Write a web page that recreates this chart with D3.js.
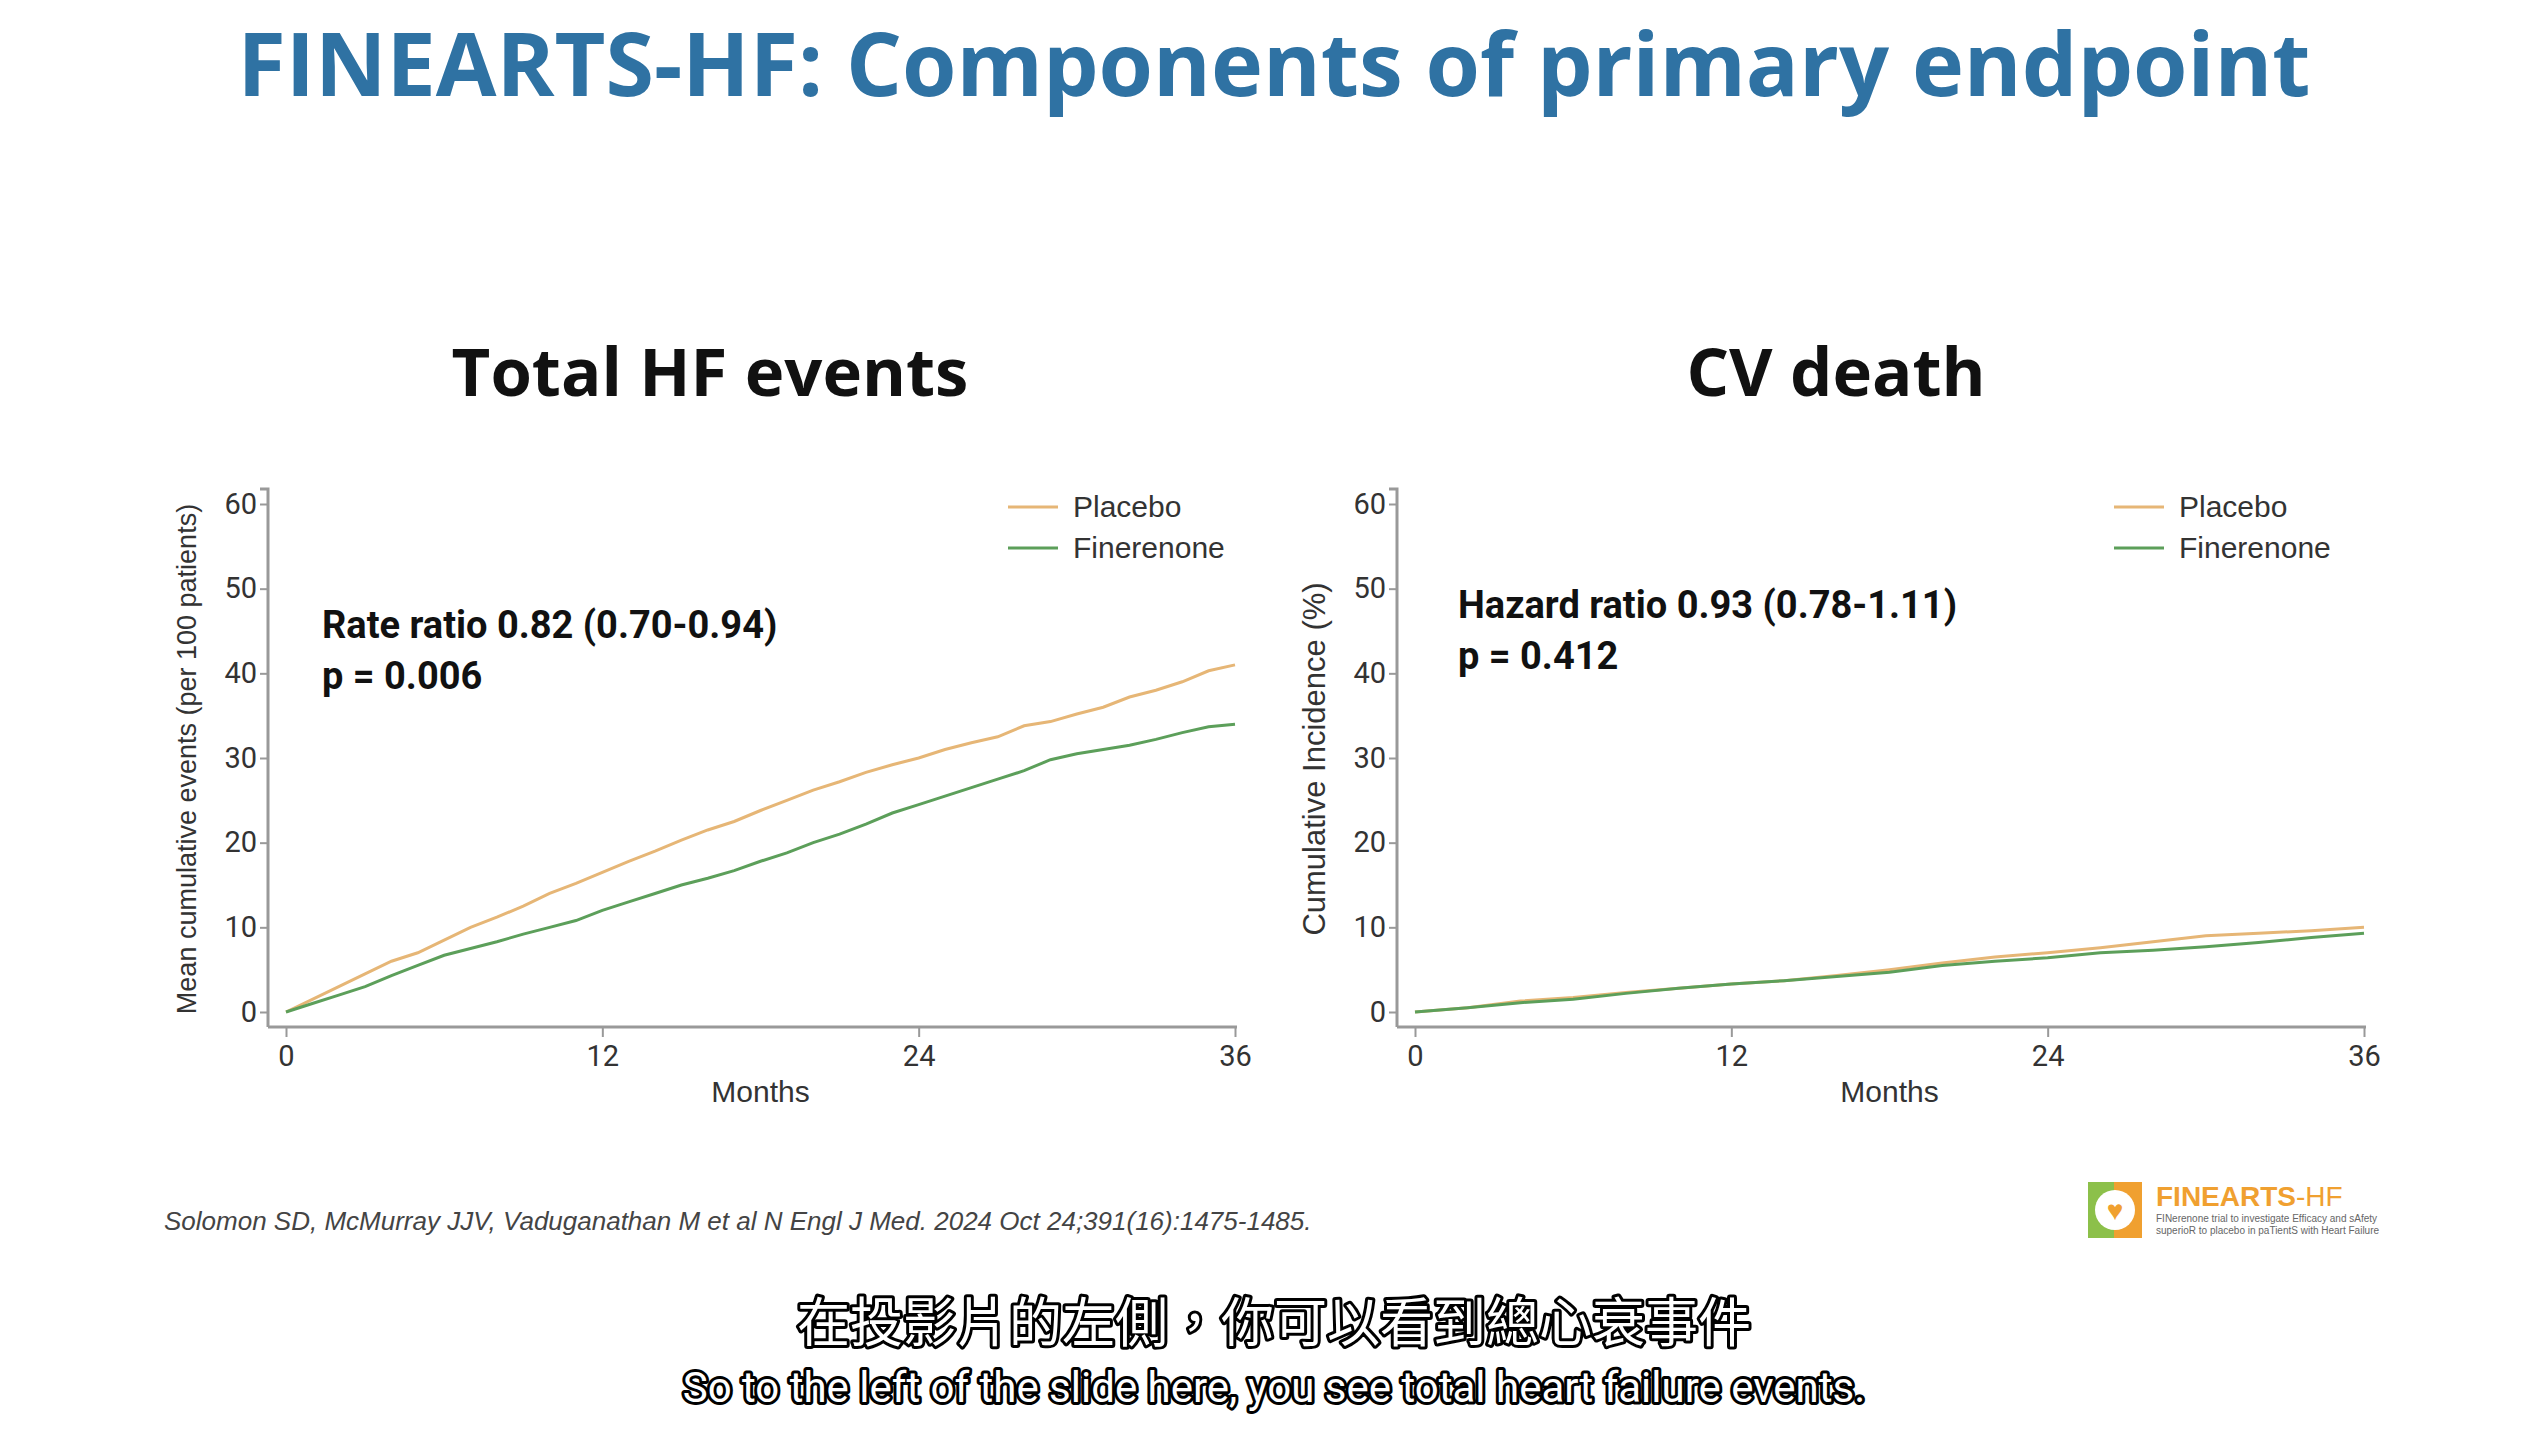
<!DOCTYPE html><html><head><meta charset="utf-8"><script src="https://cdn.jsdelivr.net/npm/d3@7"></script>
<style>body{margin:0;background:#fff}svg{display:block}</style></head><body><svg id="s" width="2548" height="1432"></svg>
<script>
const months=d3.range(0,37);
const hfPlacebo=[0,1.5,3,4.5,6,7,8.5,10,11.2,12.5,14,15.2,16.5,17.8,19,20.3,21.5,22.5,23.8,25,26.2,27.2,28.3,29.2,30,31,31.8,32.5,33.8,34.3,35.2,36,37.2,38,39,40.3,41];
const hfFin=[0,1,2,3,4.3,5.5,6.7,7.5,8.3,9.2,10,10.8,12,13,14,15,15.8,16.7,17.8,18.8,20,21,22.2,23.5,24.5,25.5,26.5,27.5,28.5,29.8,30.5,31,31.5,32.2,33,33.7,34];
const cvMonths=[0,2,4,6,8,10,12,14,16,18,20,22,24,26,28,30,32,34,36];
const cvPlacebo=[0,0.5,1.3,1.7,2.3,2.8,3.3,3.7,4.3,5,5.8,6.5,7,7.6,8.3,9,9.3,9.6,10];
const cvFin=[0,0.5,1.1,1.5,2.2,2.8,3.3,3.7,4.2,4.7,5.5,6,6.4,7,7.3,7.7,8.2,8.8,9.3];
const xTicks=[0,12,24,36], yTicks=[0,10,20,30,40,50,60];
const seriesNames=["Placebo","Finerenone"], colors=["#e6b676","#5c9f5a"];
const svg=d3.select("#s");
svg.append("text").attr("x",1274).attr("y",96).attr("text-anchor","middle").attr("font-family","Open Sans").attr("font-weight",700).attr("font-size",88).attr("fill","#2f72a3").text("FINEARTS-HF: Components of primary endpoint");
function panel(o){
  const x=d3.scaleLinear().domain([0,36]).range([o.x0,o.x0+949]);
  const y=d3.scaleLinear().domain([0,60]).range([1012,504]);
  svg.append("text").attr("x",o.tx).attr("y",396).attr("text-anchor","middle").attr("font-family","Open Sans").attr("font-weight",700).attr("font-size",67).attr("fill","#111").text(o.title);
  const g=svg.append("g");
  const ax=g.append("g").attr("transform","translate(0,1027)").call(d3.axisBottom(x).tickValues(xTicks).tickSize(10).tickSizeOuter(0));
  const ay=g.append("g").attr("transform",`translate(${o.x0-18},0)`).call(d3.axisLeft(y).tickValues(yTicks).tickSize(8).tickSizeOuter(0));
  [ax,ay].forEach(a=>{a.select(".domain").attr("stroke","#999").attr("stroke-width",3);a.selectAll("line").attr("stroke","#999").attr("stroke-width",2);a.selectAll("text").attr("font-family","Liberation Sans Narrow, Roboto").attr("font-size",29).attr("fill","#333");});
  ay.select(".domain").attr("d",`M-8,${y(60)-15}H0V1027`);
  ax.select(".domain").attr("d",`M${o.x0-18},0H${x(36)+2}`);
  ax.selectAll("text").attr("dy","0.9em");
  const line=d3.line().x(d=>x(d[0])).y(d=>y(d[1]));
  o.data.forEach((s,i)=>g.append("path").datum(o.m.map((m,j)=>[m,s[j]])).attr("d",line).attr("fill","none").attr("stroke",colors[i]).attr("stroke-width",3));
  seriesNames.forEach((n,i)=>{g.append("line").attr("x1",o.lx).attr("x2",o.lx+50).attr("y1",507+i*41).attr("y2",507+i*41).attr("stroke",colors[i]).attr("stroke-width",3);
    g.append("text").attr("x",o.lx+65).attr("y",517+i*41).attr("font-family","Liberation Sans, Arial").attr("font-size",30).attr("fill","#333").text(n);});
  g.append("text").attr("x",(x(0)+x(36))/2).attr("y",1102).attr("text-anchor","middle").attr("font-family","Liberation Sans").attr("font-size",30).attr("fill","#333").text("Months");
  g.append("text").attr("transform",`translate(${o.ylx},759) rotate(-90)`).attr("text-anchor","middle").attr("font-family","Liberation Sans").attr("font-size",o.ylfs).attr("fill","#333").text(o.ylabel);
  o.ann.forEach((t,i)=>g.append("text").attr("x",o.ax).attr("y",o.ay+i*51).attr("font-family","Liberation Sans Narrow, Roboto").attr("font-weight",700).attr("font-size",38).attr("fill","#111").text(t));
}
panel({x0:286,tx:710,title:"Total HF events",m:months,data:[hfPlacebo,hfFin],lx:1008,ylx:196,ylfs:27,ylabel:"Mean cumulative events (per 100 patients)",ax:322,ay:638,ann:["Rate ratio 0.82 (0.70-0.94)","p = 0.006"]});
panel({x0:1415,tx:1836,title:"CV death",m:cvMonths,data:[cvPlacebo,cvFin],lx:2114,ylx:1325,ylfs:31,ylabel:"Cumulative Incidence (%)",ax:1458,ay:618,ann:["Hazard ratio 0.93 (0.78-1.11)","p = 0.412"]});
svg.append("text").attr("x",164).attr("y",1230).attr("font-family","Liberation Sans").attr("font-style","italic").attr("font-size",26).attr("fill","#444").text("Solomon SD, McMurray JJV, Vaduganathan M et al N Engl J Med. 2024 Oct 24;391(16):1475-1485.");
const lg=svg.append("g").attr("transform","translate(2088,1182)");
lg.append("rect").attr("width",26).attr("height",56).attr("fill","#8cc04a");lg.append("rect").attr("x",26).attr("width",28).attr("height",56).attr("fill","#f0a030");
lg.append("circle").attr("cx",27).attr("cy",28).attr("r",20).attr("fill","#fff");
lg.append("text").attr("x",27).attr("y",38).attr("text-anchor","middle").attr("font-size",28).attr("fill","#f0a030").text("♥");
lg.append("text").attr("x",68).attr("y",24).attr("font-family","Liberation Sans").attr("font-weight",700).attr("font-size",28).attr("fill","#f0a030").text("FINEARTS").append("tspan").attr("font-weight",400).text("-HF");
lg.append("text").attr("x",68).attr("y",40).attr("font-family","Liberation Sans").attr("font-size",10).attr("fill","#666").text("FINerenone trial to investigate Efficacy and sAfety");
lg.append("text").attr("x",68).attr("y",52).attr("font-family","Liberation Sans").attr("font-size",10).attr("fill","#666").text("superioR to placebo in paTientS with Heart Failure");
[["在投影片的左側，你可以看到總心衰事件",1342,53,"Noto Sans CJK TC"],["So to the left of the slide here, you see total heart failure events.",1402,42,"Liberation Sans Narrow, Roboto"]].forEach(([t,yy,fs,ff])=>{
 svg.append("text").attr("x",1274).attr("y",yy).attr("text-anchor","middle").attr("font-family",ff).attr("font-size",fs).attr("fill","#fff").attr("stroke","#000").attr("stroke-width",6).attr("paint-order","stroke").attr("stroke-linejoin","round").text(t);});
</script></body></html>
